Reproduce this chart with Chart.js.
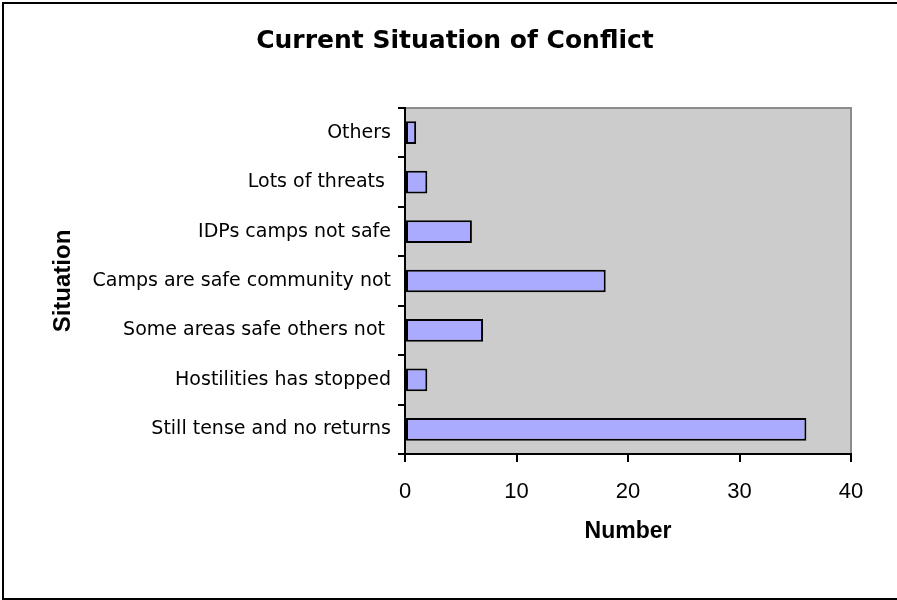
<!DOCTYPE html>
<html>
<head>
<meta charset="utf-8">
<title>Current Situation of Conflict</title>
<script src="https://cdn.jsdelivr.net/npm/chart.js@4/dist/chart.umd.min.js"></script>
<style>
  html, body { margin: 0; padding: 0; background: #ffffff; }
  canvas { display: block; }
</style>
</head>
<body>
<canvas id="chart" width="897" height="600"></canvas>
<script>
// Situation categories, listed top to bottom
const situations = [
  'Others',
  'Lots of threats ',
  'IDPs camps not safe',
  'Camps are safe community not',
  'Some areas safe others not ',
  'Hostilities has stopped',
  'Still tense and no returns'
];

// Number of responses for each situation
const counts = [1, 2, 6, 18, 7, 2, 36];

// Value axis ticks
const numberTicks = [0, 10, 20, 30, 40];

// White page with a dark frame, grey plot area with a lighter top/right edge
const framePlugin = {
  id: 'frame',
  beforeDraw(chart) {
    const { ctx, width, height, chartArea: a } = chart;
    ctx.save();
    ctx.fillStyle = '#ffffff';
    ctx.fillRect(0, 0, width, height);
    ctx.fillStyle = '#cccccc';
    ctx.fillRect(a.left, a.top, a.right - a.left, a.bottom - a.top);
    ctx.strokeStyle = '#8c8c8c';
    ctx.lineWidth = 2;
    ctx.beginPath();
    ctx.moveTo(a.left, a.top);
    ctx.lineTo(a.right, a.top);
    ctx.lineTo(a.right, a.bottom);
    ctx.stroke();
    ctx.restore();
  },
  afterDraw(chart) {
    const { ctx, width, height } = chart;
    ctx.save();
    ctx.strokeStyle = '#000000';
    ctx.lineWidth = 2;
    ctx.strokeRect(3, 3, width + 4, height - 4);
    ctx.restore();
  }
};

new Chart(document.getElementById('chart'), {
  type: 'bar',
  data: {
    labels: situations,
    datasets: [{
      data: counts,
      backgroundColor: '#aaaaff',
      borderColor: '#000000',
      borderWidth: 2,
      borderSkipped: false,
      categoryPercentage: 1,
      barPercentage: 0.46
    }]
  },
  options: {
    indexAxis: 'y',
    responsive: false,
    animation: false,
    layout: { padding: { left: 59, right: 46, top: 0, bottom: 0 } },
    plugins: {
      legend: { display: false },
      tooltip: { enabled: false },
      title: {
        display: true,
        text: 'Current Situation of Conflict',
        color: '#000000',
        font: { family: 'DejaVu Sans', size: 25, weight: 'bold' },
        padding: { top: 26, bottom: 52 }
      }
    },
    scales: {
      x: {
        min: numberTicks[0],
        max: numberTicks[numberTicks.length - 1],
        afterBuildTicks(scale) {
          scale.ticks = numberTicks.map(v => ({ value: v }));
        },
        afterFit(scale) { scale.height = 146; },
        grid: {
          drawOnChartArea: false,
          drawTicks: true,
          tickLength: 8,
          color: '#000000',
          lineWidth: 2
        },
        border: { display: true, color: '#000000', width: 2 },
        ticks: {
          color: '#000000',
          padding: 17,
          font: { family: 'Liberation Sans', size: 22 }
        },
        title: {
          display: true,
          text: 'Number',
          color: '#000000',
          font: { family: 'Liberation Sans', size: 23, weight: 'bold' },
          padding: { top: 0, bottom: 55 }
        }
      },
      y: {
        offset: true,
        afterFit(scale) { scale.width = 346; },
        grid: {
          offset: true,
          drawOnChartArea: false,
          drawTicks: true,
          tickLength: 7,
          color: '#000000',
          lineWidth: 2
        },
        border: { display: true, color: '#000000', width: 2 },
        ticks: {
          color: '#000000',
          padding: 7,
          font: { family: 'DejaVu Sans', size: 19 }
        },
        title: {
          display: true,
          text: 'Situation',
          color: '#000000',
          font: { family: 'Liberation Sans', size: 24, weight: 'bold' },
          padding: { top: -10, bottom: 0 }
        }
      }
    }
  },
  plugins: [framePlugin]
});
</script>
</body>
</html>
